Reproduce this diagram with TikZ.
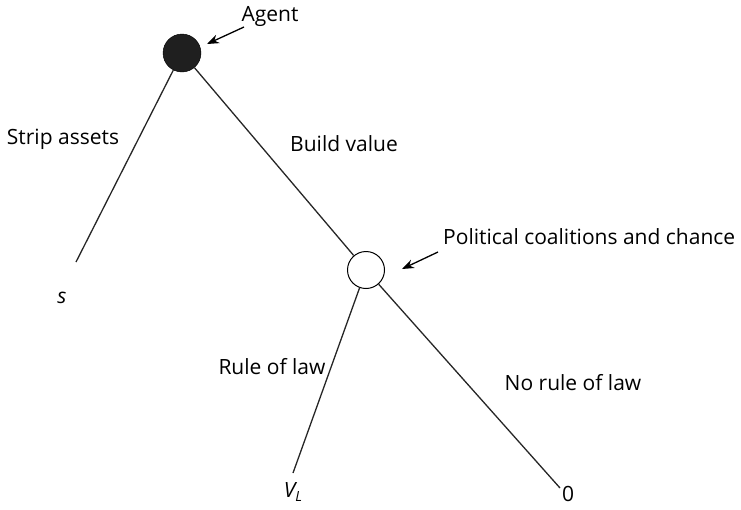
\documentclass[tikz,border=0pt]{standalone}
\usepackage{fontspec}
\setmainfont{Open Sans}
\usetikzlibrary{arrows.meta}
\begin{document}
\begin{tikzpicture}[x=1pt,y=-1pt,
  branch/.style={draw=black!85,line width=1.3pt},
  pointer/.style={draw=black,line width=1.3pt,-{Stealth[length=12pt,width=9pt]}},
  lbl/.style={font=\fontsize{21}{25}\selectfont,inner sep=0pt},
  decision/.style={circle,fill=black!88,draw=black,minimum size=38pt,inner sep=0pt},
  chance/.style={circle,fill=white,draw=black,line width=1pt,minimum size=37pt,inner sep=0pt}]
\useasboundingbox (0,0) rectangle (741,509);
\node[decision] (agent) at (182,53) {};
\node[chance] (pol) at (366,270) {};
\coordinate (s) at (76,262);
\coordinate (vl) at (293,473);
\coordinate (zero) at (560,488);
\draw[branch] (agent) -- (s);
\draw[branch] (agent) -- (pol);
\draw[branch] (pol) -- (vl);
\draw[branch] (pol) -- (zero);
\node[lbl] (agentlbl) at (270,16) {Agent};
\coordinate (a1) at (244,27);
\draw[pointer] (a1) -- (207,44);
\node[lbl,anchor=west] (pollbl) at (443,237) {Political coalitions and chance};
\coordinate (p1) at (438,252);
\draw[pointer] (p1) -- (402,269);
\node[lbl] (strip) at (63,139) {Strip assets};
\node[lbl] (build) at (344,144) {Build value};
\node[lbl] (rule) at (272,367) {Rule of law};
\node[lbl] (norule) at (573,383) {No rule of law};
\node[lbl] (slbl) at (62,298) {\itshape s};
\node[lbl] (vllbl) at (293,492) {\itshape V\raisebox{-0.35ex}{\fontsize{14}{14}\selectfont L}};
\node[lbl] (zerolbl) at (568,494) {0};
\end{tikzpicture}
\end{document}
